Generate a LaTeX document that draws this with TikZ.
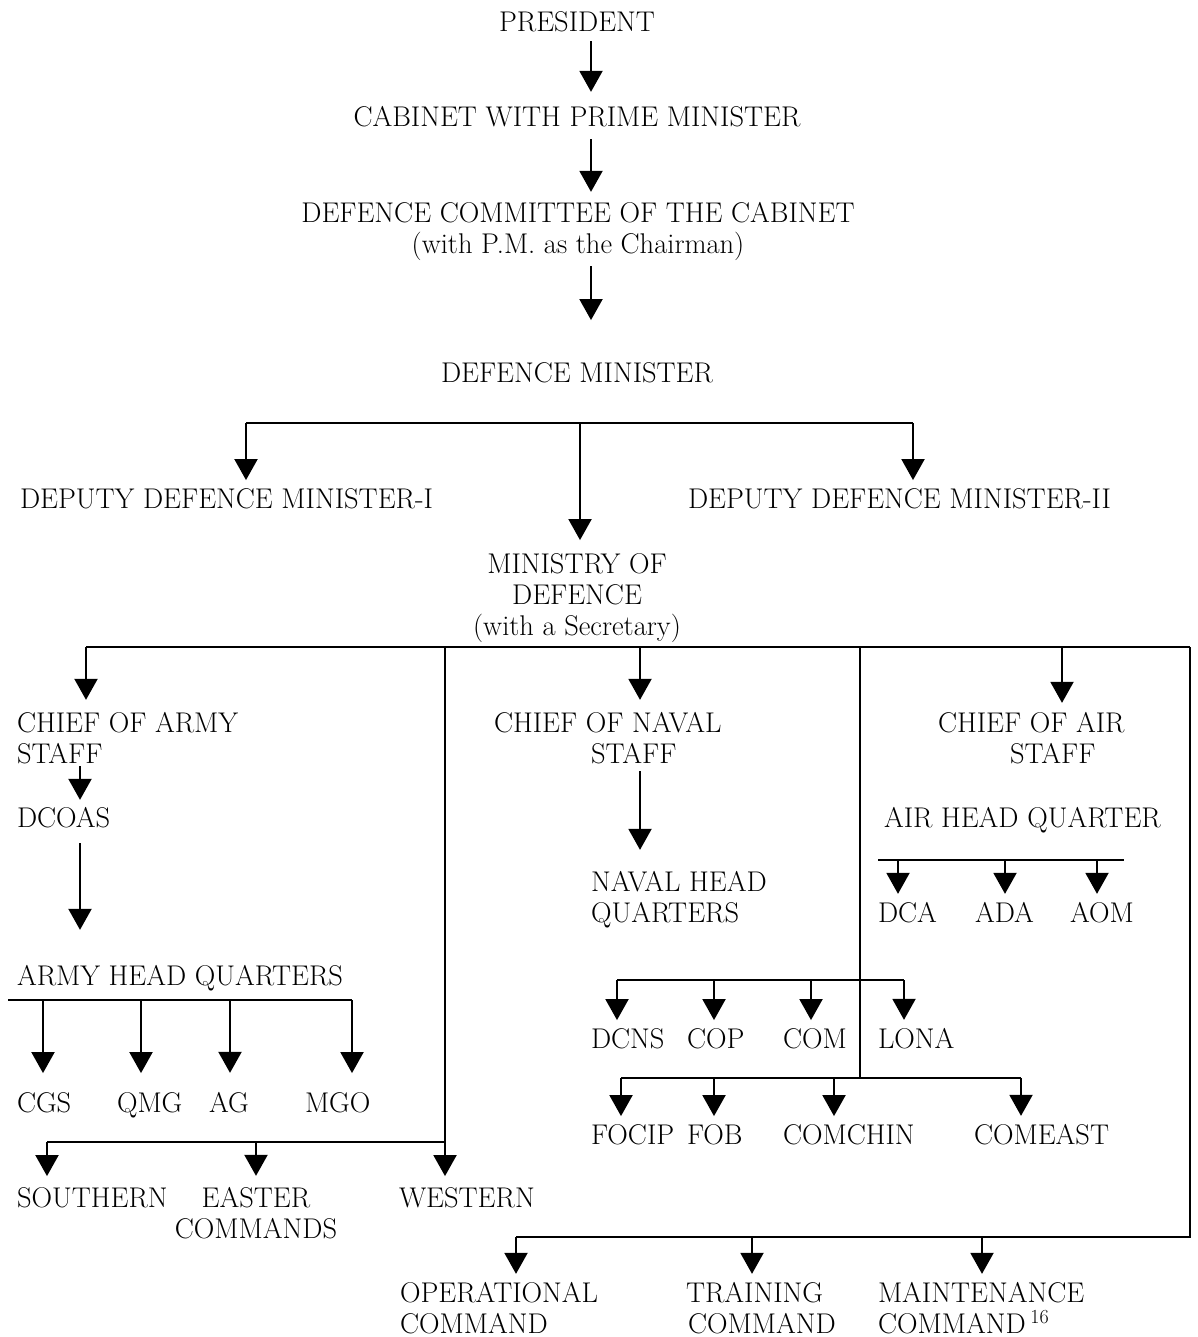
\documentclass[tikz,border=0pt]{standalone}
\usepackage{fontspec}
\setmainfont{Latin Modern Roman}
\usetikzlibrary{arrows.meta,calc}
\begin{document}
\begin{tikzpicture}[x=1pt,y=-1pt,
  lbl/.style={inner sep=0pt,outer sep=0pt,font=\fontsize{28.5}{31}\selectfont},
  conn/.style={line width=2pt},
  arr/.style={conn,-{Triangle[width=23pt,length=21pt]}}]
\useasboundingbox (0,0) rectangle (1197,1337);

% ---------- text nodes (base anchor = baseline of last line) ----------
\node[lbl,anchor=base] (pres) at (577,32) {PRESIDENT};
\node[lbl,anchor=base] (cab) at (577,127) {CABINET WITH PRIME MINISTER};
\node[lbl,anchor=base,align=center] (dcc) at (578,254) {DEFENCE COMMITTEE OF THE CABINET\\(with P.M. as the Chairman)};
\node[lbl,anchor=base] (dm) at (577,382) {DEFENCE MINISTER};
\node[lbl,anchor=base west] (ddm1) at (20,508) {DEPUTY DEFENCE MINISTER-I};
\node[lbl,anchor=base west] (ddm2) at (688,508) {DEPUTY DEFENCE MINISTER-II};
\node[lbl,anchor=base,align=center] (mod) at (577,635) {MINISTRY OF\\DEFENCE\\(with a Secretary)};

% army
\node[lbl,anchor=base west,align=left] (coas) at (17,763) {CHIEF OF ARMY\\STAFF};
\node[lbl,anchor=base west] (dcoas) at (17,827) {DCOAS};
\node[lbl,anchor=base west] (ahq) at (17,985) {ARMY HEAD QUARTERS};
\node[lbl,anchor=base west] (cgs) at (17,1112) {CGS};
\node[lbl,anchor=base west] (qmg) at (117,1112) {QMG};
\node[lbl,anchor=base west] (ag) at (209,1112) {AG};
\node[lbl,anchor=base west] (mgo) at (305,1112) {MGO};
\node[lbl,anchor=base west] (south) at (17,1207) {SOUTHERN};
\node[lbl,anchor=base,align=center] (east) at (256,1238) {EASTER\\COMMANDS};
\node[lbl,anchor=base west] (west) at (399,1207) {WESTERN};

% navy
\node[lbl,anchor=base west,align=left] (cons) at (494,763) {CHIEF OF NAVAL\\\hspace*{97pt}STAFF};
\node[lbl,anchor=base west,align=left] (nhq) at (591,922) {NAVAL HEAD\\QUARTERS};
\node[lbl,anchor=base west] (dcns) at (591,1048) {DCNS};
\node[lbl,anchor=base west] (cop) at (687,1048) {COP};
\node[lbl,anchor=base west] (com) at (783,1048) {COM};
\node[lbl,anchor=base west] (lona) at (878,1048) {LONA};
\node[lbl,anchor=base west] (focip) at (591,1144) {FOCIP};
\node[lbl,anchor=base west] (fob) at (687,1144) {FOB};
\node[lbl,anchor=base west] (comchin) at (783,1144) {COMCHIN};
\node[lbl,anchor=base west] (comeast) at (974,1144) {COMEAST};

% air
\node[lbl,anchor=base west,align=left] (coair) at (938,763) {CHIEF OF AIR\\\hspace*{72pt}STAFF};
\node[lbl,anchor=base west] (airhq) at (884,827) {AIR HEAD QUARTER};
\node[lbl,anchor=base west] (dca) at (878,922) {DCA};
\node[lbl,anchor=base west] (ada) at (975,922) {ADA};
\node[lbl,anchor=base west] (aom) at (1070,922) {AOM};

% bottom
\node[lbl,anchor=base west,align=left] (opc) at (400,1333) {OPERATIONAL\\COMMAND};
\node[lbl,anchor=base west,align=left] (trc) at (686,1333) {TRAINING\\\hspace*{2pt}COMMAND};
\node[lbl,anchor=base west,align=left] (mnc) at (878,1333) {MAINTENANCE\\COMMAND\,\textsuperscript{16}};

% ---------- connectors ----------
\draw[arr] ($(pres.south)+(14,9)$) -- ($(cab.north)+(14,-15)$);
\draw[arr] ($(cab.south)+(14,12)$) -- ($(dcc.north)+(13,-11)$);
\draw[arr] ($(dcc.south)+(13,5)$) -- ($(dm.north)+(14,-42)$);

% defence minister bus
\coordinate (dmL) at (246,423);
\coordinate (dmC) at (580,423);
\coordinate (dmR) at (913,423);
\draw[conn] (dmL) -- (dmR);
\draw[arr] (dmL) -- ($(dmL |- ddm1.north)+(0,-8)$);
\draw[arr] (dmR) -- ($(dmR |- ddm2.north)+(0,-8)$);
\draw[arr] (dmC) -- ($(dmC |- mod.north)+(0,-13)$);

% ministry bus
\coordinate (mA) at (86,647);
\coordinate (mW) at (445,647);
\coordinate (mN) at (640,647);
\coordinate (mV) at (860,647);
\coordinate (mAir) at (1062,647);
\coordinate (mR) at (1190,647);
\draw[conn] (mA) -- (mR);
\draw[arr] (mA) -- ($(mA |- coas.north)+(0,-12)$);
\draw[arr] (mN) -- ($(mN |- cons.north)+(0,-12)$);
\draw[arr] (mAir) -- ($(mAir |- coair.north)+(0,-9)$);

% army chain
\coordinate (xa) at (80,0);
\draw[arr] ($(coas.south -| xa)+(0,3)$) -- ($(dcoas.north -| xa)+(0,-7)$);
\draw[arr] ($(dcoas.south -| xa)+(0,16)$) -- ($(ahq.north -| xa)+(0,-35)$);
\coordinate (ahL) at (8,1000);
\coordinate (a1) at (43,1000);
\coordinate (a2) at (141,1000);
\coordinate (a3) at (230,1000);
\coordinate (a4) at (352,1000);
\draw[conn] (ahL) -- (a4);
\draw[arr] (a1) -- ($(a1 |- cgs.north)+(0,-19)$);
\draw[arr] (a2) -- ($(a2 |- qmg.north)+(0,-19)$);
\draw[arr] (a3) -- ($(a3 |- ag.north)+(0,-19)$);
\draw[arr] (a4) -- ($(a4 |- mgo.north)+(0,-19)$);
\coordinate (c1) at (47,1142);
\coordinate (c2) at (256,1142);
\coordinate (c3) at (445,1142);
\draw[conn] (mW) -- (c3) -- (c1);
\draw[arr] (c1) -- ($(c1 |- south.north)+(0,-11)$);
\draw[arr] (c2) -- ($(c2 |- east.north)+(0,-11)$);
\draw[arr] (c3) -- ($(c3 |- west.north)+(0,-11)$);

% navy chain
\coordinate (xn) at (640,0);
\draw[arr] ($(cons.south -| xn)+(0,8)$) -- ($(nhq.north -| xn)+(0,-21)$);
\coordinate (n1) at (617,980);
\coordinate (n2) at (714,980);
\coordinate (n3) at (811,980);
\coordinate (n4) at (904,980);
\draw[conn] (n1) -- (n4);
\draw[arr] (n1) -- ($(n1 |- dcns.north)+(0,-8)$);
\draw[arr] (n2) -- ($(n2 |- cop.north)+(0,-8)$);
\draw[arr] (n3) -- ($(n3 |- com.north)+(0,-8)$);
\draw[arr] (n4) -- ($(n4 |- lona.north)+(0,-8)$);
\coordinate (f1) at (621,1078);
\coordinate (f2) at (714,1078);
\coordinate (f3) at (834,1078);
\coordinate (fV) at (860,1078);
\coordinate (f4) at (1021,1078);
\draw[conn] (mV) -- (fV);
\draw[conn] (f1) -- (f4);
\draw[arr] (f1) -- ($(f1 |- focip.north)+(0,-8)$);
\draw[arr] (f2) -- ($(f2 |- fob.north)+(0,-8)$);
\draw[arr] (f3) -- ($(f3 |- comchin.north)+(0,-8)$);
\draw[arr] (f4) -- ($(f4 |- comeast.north)+(0,-8)$);

% air chain
\coordinate (rL) at (878,860);
\coordinate (r1) at (898,860);
\coordinate (r2) at (1005,860);
\coordinate (r3) at (1097,860);
\coordinate (rR) at (1124,860);
\draw[conn] (rL) -- (rR);
\draw[arr] (r1) -- ($(r1 |- dca.north)+(0,-8)$);
\draw[arr] (r2) -- ($(r2 |- ada.north)+(0,-8)$);
\draw[arr] (r3) -- ($(r3 |- aom.north)+(0,-8)$);

% bottom commands
\coordinate (bR) at (1190,1237);
\coordinate (t1) at (516,1237);
\coordinate (t2) at (752,1237);
\coordinate (t3) at (982,1237);
\draw[conn] (mR) -- (bR) -- (t1);
\draw[arr] (t1) -- ($(t1 |- opc.north)+(0,-8)$);
\draw[arr] (t2) -- ($(t2 |- trc.north)+(0,-8)$);
\draw[arr] (t3) -- ($(t3 |- mnc.north)+(0,-8)$);
\end{tikzpicture}
\end{document}
